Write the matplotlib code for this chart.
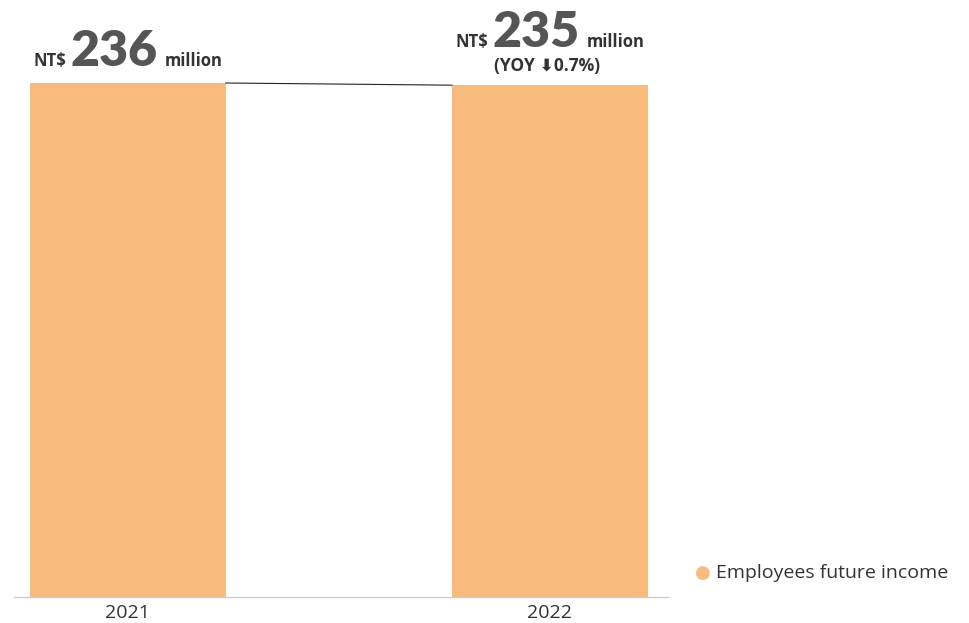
import matplotlib
matplotlib.use("Agg")
import matplotlib.pyplot as plt
from matplotlib.transforms import offset_copy

years = ["2021", "2022"]
values = [236, 235]
value_labels = ["236", "235"]
yoy_label = "(YOY \u2b070.7%)"
series_name = "Employees future income"

bar_color = "#F9BB7D"
W, H, DPI = 970, 623, 100
fig = plt.figure(figsize=(W / DPI, H / DPI), dpi=DPI)
ax = fig.add_axes([14 / W, (H - 597) / H, (668 - 14) / W, 597 / H])

x = list(range(len(years)))
bars = ax.bar(x, values, width=0.464, color=bar_color, zorder=2)
px_per_unit = 514 / 236
ax.set_ylim(0, 597 / px_per_unit)
ax.set_xlim(-0.27, 1.28)
for s in ["top", "right", "left"]:
    ax.spines[s].set_visible(False)
ax.spines["bottom"].set_color("#cccccc")
ax.spines["bottom"].set_linewidth(1.0)
ax.set_yticks([])
ax.set_xticks(x)
ax.set_xticklabels(years, fontsize=14, color="#333333", family=["Open Sans", "DejaVu Sans"])
ax.tick_params(axis="x", length=0, pad=5)

# connector line between bar tops
b0, b1 = bars[0], bars[1]
ax.plot([b0.get_x() + b0.get_width(), b1.get_x()], [values[0], values[1]],
        color="#222222", lw=0.8, zorder=3)

fig.canvas.draw()
r = fig.canvas.get_renderer()

def label_group(i, baseline_px_above, big):
    cx = x[i]
    base = dict(transform=ax.transData, va="baseline")
    t1 = ax.text(cx, values[i], "NT$", fontsize=12, fontweight="bold", color="#333333",
                 family=["Open Sans", "DejaVu Sans"], ha="left", **base)
    t2 = ax.text(cx, values[i], big, fontsize=36, fontweight="heavy", color="#555555",
                 family=["Lato", "DejaVu Sans"], ha="left", **base)
    t3 = ax.text(cx, values[i], "million", fontsize=12, fontweight="bold", color="#333333",
                 family=["Open Sans", "DejaVu Sans"], ha="left", **base)
    w1 = t1.get_window_extent(r).width
    w2 = t2.get_window_extent(r).width
    w3 = t3.get_window_extent(r).width
    gap1, gap2 = 4, 7
    total = w1 + gap1 + w2 + gap2 + w3
    start = -total / 2
    offs = [start, start + w1 + gap1, start + w1 + gap1 + w2 + gap2]
    for t, o in zip([t1, t2, t3], offs):
        t.set_transform(offset_copy(ax.transData, fig=fig, x=o, y=baseline_px_above, units="dots"))

label_group(0, 83 - 66, value_labels[0])
label_group(1, 38, value_labels[1])
ax.text(x[1], values[1], yoy_label, fontsize=12.5, fontweight="bold", color="#333333",
        family=["Open Sans", "DejaVu Sans"], ha="center", va="baseline",
        transform=offset_copy(ax.transData, fig=fig, x=-3, y=14, units="dots"))

# legend
fig.text(703 / W, 1 - 573 / H, "\u25cf", fontsize=13, color=bar_color, ha="center", va="center")
fig.text(716 / W, 1 - 573 / H, series_name, fontsize=14, color="#333333",
         family=["Open Sans", "DejaVu Sans"], ha="left", va="center")

fig.savefig("out.png", dpi=DPI)
